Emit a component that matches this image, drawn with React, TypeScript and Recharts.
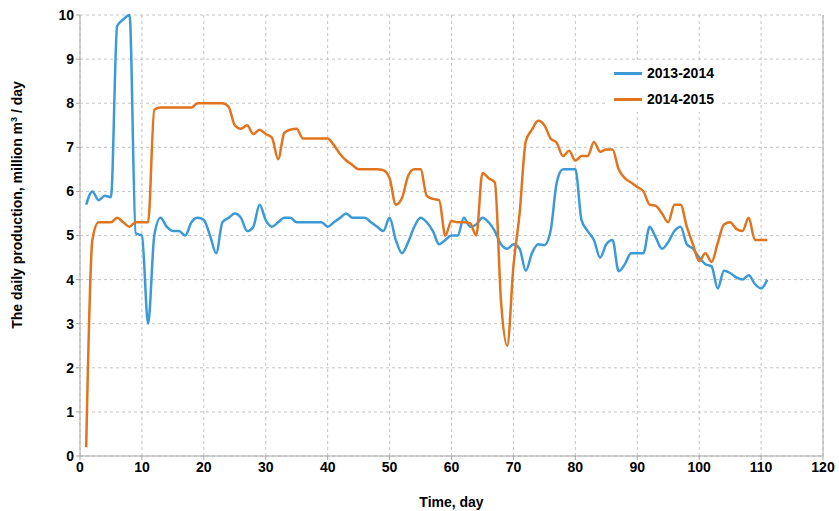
import { LineChart, Line, XAxis, YAxis, CartesianGrid, ReferenceLine } from "recharts";

// day index 1..111
const days = Array.from({ length: 111 }, (_, i) => i + 1);

const season2013 = [
  5.7, 6.0, 5.8, 5.9, 5.87, 9.75, 9.9, 10.0, 5.05, 5.0,
  3.0, 5.0, 5.4, 5.2, 5.1, 5.1, 5.0, 5.3, 5.4, 5.35,
  5.0, 4.6, 5.3, 5.4, 5.5, 5.4, 5.1, 5.2, 5.7, 5.35,
  5.2, 5.3, 5.4, 5.4, 5.3, 5.3, 5.3, 5.3, 5.3, 5.2,
  5.3, 5.4, 5.5, 5.4, 5.4, 5.4, 5.3, 5.2, 5.1, 5.4,
  4.9, 4.6, 4.85, 5.2, 5.4, 5.3, 5.1, 4.8, 4.9, 5.0,
  5.0, 5.4, 5.2, 5.25, 5.4, 5.3, 5.1, 4.8, 4.7, 4.8,
  4.7, 4.2, 4.6, 4.8, 4.78, 5.1, 6.2, 6.5, 6.5, 6.5,
  5.35, 5.1, 4.9, 4.5, 4.8, 4.9, 4.19, 4.35, 4.6, 4.6,
  4.6, 5.2, 4.95, 4.7, 4.85, 5.1, 5.2, 4.8, 4.7, 4.5,
  4.35, 4.3, 3.8, 4.2, 4.15, 4.05, 4.0, 4.1, 3.9, 3.8,
  4.0,
];

const season2014 = [
  0.2, 4.9, 5.3, 5.3, 5.3, 5.4, 5.3, 5.2, 5.3, 5.3,
  5.3, 7.85, 7.9, 7.9, 7.9, 7.9, 7.9, 7.9, 8.0, 8.0,
  8.0, 8.0, 8.0, 7.92, 7.5, 7.42, 7.5, 7.3, 7.4, 7.3,
  7.22, 6.73, 7.33, 7.4, 7.42, 7.2, 7.2, 7.2, 7.2, 7.2,
  7.05, 6.85, 6.7, 6.6, 6.5, 6.5, 6.5, 6.5, 6.48, 6.3,
  5.7, 5.85, 6.35, 6.5, 6.5, 5.9, 5.83, 5.8, 5.0, 5.33,
  5.3, 5.3, 5.28, 5.0, 6.42, 6.3, 6.2, 3.5, 2.5, 4.3,
  5.5, 7.14, 7.4, 7.6, 7.5, 7.2, 7.1, 6.8, 6.92, 6.7,
  6.8, 6.8, 7.12, 6.9, 6.95, 6.95, 6.5, 6.3, 6.2, 6.1,
  6.0, 5.7, 5.67, 5.5, 5.3, 5.7, 5.7, 5.2, 4.8, 4.42,
  4.6, 4.4, 4.83, 5.25, 5.3, 5.15, 5.1, 5.4, 4.9, 4.9,
  4.9,
];

const xTicks = [0, 10, 20, 30, 40, 50, 60, 70, 80, 90, 100, 110, 120];
const yTicks = [0, 1, 2, 3, 4, 5, 6, 7, 8, 9, 10];

const BLUE = "#3C9AD6";
const ORANGE = "#E0741F";
const GRID = "#c4c4c4";
const AXIS = "#a6a6a6";
const FONT = "'Liberation Sans', Arial, sans-serif";

const data = days.map((d, i) => ({ day: d, a: season2013[i], b: season2014[i] }));

const legendItems = [
  { label: "2013-2014", color: BLUE },
  { label: "2014-2015", color: ORANGE },
];

// legend sits inside the plot, over a white box
function LegendBox() {
  return (
    <div
      style={{
        position: "absolute",
        left: 608,
        top: 60,
        background: "#fff",
        padding: "0 6px",
        fontFamily: FONT,
      }}
    >
      {legendItems.map((it) => (
        <div key={it.label} style={{ display: "flex", alignItems: "center", height: 26 }}>
          <span style={{ width: 28, height: 3, background: it.color, marginRight: 5 }} />
          <span style={{ fontSize: 14, fontWeight: 700, color: "#000" }}>{it.label}</span>
        </div>
      ))}
    </div>
  );
}

export default function App() {
  return (
    <div style={{ position: "absolute", left: 0, top: 0, width: 839, height: 511, background: "#fff" }}>
      <LineChart
        width={839}
        height={511}
        data={data}
        margin={{ top: 15, right: 16, bottom: 0, left: 0 }}
      >
        <CartesianGrid stroke={GRID} strokeDasharray="3 3" />
        <XAxis
          dataKey="day"
          type="number"
          domain={[0, 120]}
          ticks={xTicks}
          height={55}
          stroke={AXIS}
          tickSize={4}
          tick={{ fontSize: 14, fontWeight: 700, fill: "#000", fontFamily: FONT }}
          label={{
            content: ({ viewBox }: any) => (
              <text
                x={viewBox.x + viewBox.width / 2}
                y={viewBox.y + 51}
                textAnchor="middle"
                fontSize={14}
                fontWeight={700}
                fontFamily={FONT}
                fill="#000"
              >
                Time, day
              </text>
            ),
          }}
        />
        <YAxis
          type="number"
          domain={[0, 10]}
          ticks={yTicks}
          width={80}
          stroke={AXIS}
          tickSize={4}
          interval={0}
          tick={{ fontSize: 14, fontWeight: 700, fill: "#000", fontFamily: FONT }}
          label={{
            content: () => (
              <text
                transform="translate(22, 205) rotate(-90)"
                textAnchor="middle"
                fontSize={14}
                fontWeight={700}
                fontFamily={FONT}
                fill="#000"
              >
                The daily production, million m<tspan dy={-5} fontSize={9}>3</tspan>
                <tspan dy={5}> / day</tspan>
              </text>
            ),
          }}
        />
        <ReferenceLine x={120} stroke={AXIS} />
        <Line
          type="monotone"
          dataKey="a"
          name="2013-2014"
          stroke={BLUE}
          strokeWidth={2.5}
          dot={false}
          isAnimationActive={false}
        />
        <Line
          type="monotone"
          dataKey="b"
          name="2014-2015"
          stroke={ORANGE}
          strokeWidth={2.5}
          dot={false}
          isAnimationActive={false}
        />
      </LineChart>
      <LegendBox />
    </div>
  );
}
